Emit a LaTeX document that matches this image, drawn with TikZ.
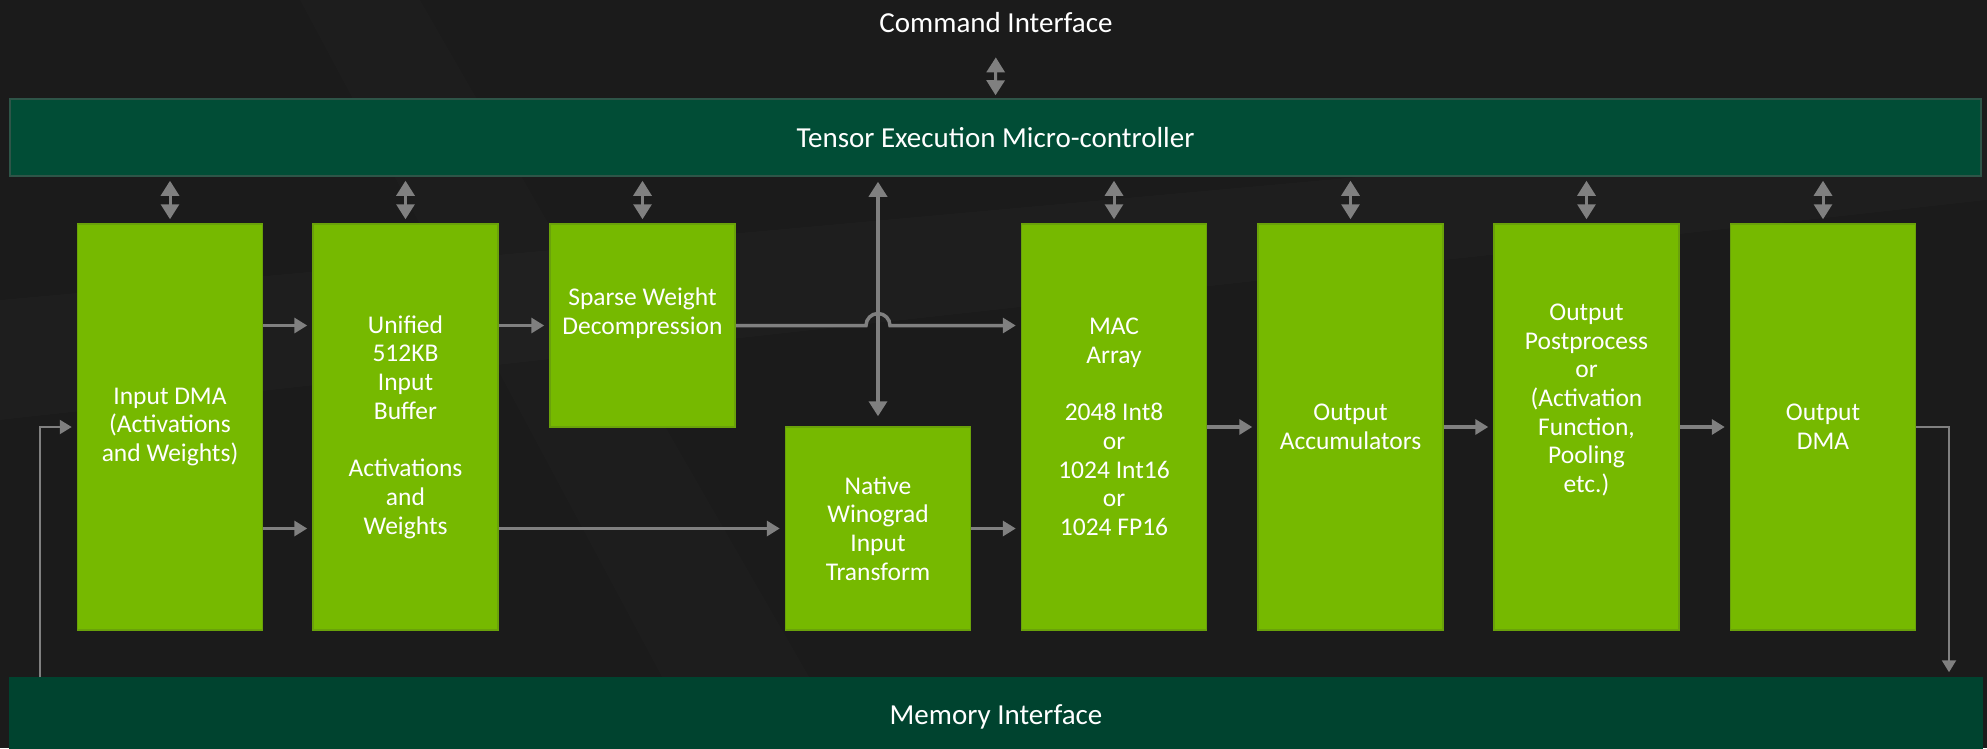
\documentclass[tikz,border=0pt]{standalone}
\usepackage{fontspec}
\setmainfont{Carlito}
\usetikzlibrary{arrows.meta}
\definecolor{bgc}{HTML}{1B1B1B}
\definecolor{nvgreen}{HTML}{76B900}
\definecolor{nvedge}{HTML}{6AA20A}
\definecolor{barc}{HTML}{014D36}
\definecolor{barbot}{HTML}{00432F}
\definecolor{baredge}{HTML}{2E5548}
\definecolor{conncol}{HTML}{808080}
\tikzset{
  box/.style={draw=nvedge, line width=1.5pt, fill=nvgreen, text=white, align=center,
    inner sep=0pt, minimum width=185pt,
    font={\fontsize{25.5}{28.7}\selectfont}},
  tallbox/.style={box, minimum height=406pt},
  shortbox/.style={box, minimum height=203pt},
  bar/.style={fill=barc, draw=baredge, line width=1.5pt, text=white, inner sep=0pt,
    minimum width=1971pt, font={\fontsize{29}{32}\selectfont}},
  conn/.style={draw=conncol, line width=3.5pt, -{Triangle[width=15pt,length=13pt]}, shorten >=5pt},
  thinconn/.style={draw=conncol, line width=2.2pt, -{Triangle[width=14pt,length=12pt]}, shorten >=5pt},
  dbl/.style={draw=conncol, line width=3pt, {Triangle[width=18pt,length=15pt]}-{Triangle[width=18pt,length=15pt]},
    shorten >=4pt, shorten <=4pt},
}
\begin{document}
\begin{tikzpicture}[x=1pt,y=-1pt]
\fill[bgc] (0,0) rectangle (1987,748);
\useasboundingbox (0,0) rectangle (1987,748);
% subtle background streaks
\fill[white, opacity=0.015] (0,300) -- (1987,120) -- (1987,200) -- (0,420) -- cycle;
\fill[white, opacity=0.012] (300,0) -- (700,748) -- (850,748) -- (420,0) -- cycle;

% bars and title
\node[font={\fontsize{29}{32}\selectfont}, text=white, inner sep=0pt] (cmd) at (996,23) {Command Interface};
\node[bar, minimum height=77pt] (tec) at (995.5,137.5) {Tensor Execution Micro-controller};
\node[bar, fill=barbot, draw=barbot, minimum width=1972pt, minimum height=72pt] (mem) at (996,714) {};
\node[text=white, font={\fontsize{29}{32}\selectfont}, inner sep=0pt] (memlbl) at (996,717) {Memory Interface};

% boxes
\node[tallbox] (dma) at (170,427) {Input DMA\\(Activations\\and Weights)};
\node[tallbox] (uni) at (405.5,427) {Unified\\512KB\\Input\\Buffer\\~\\Activations\\and\\Weights};
\node[shortbox] (sparse) at (642.5,325.5) {Sparse Weight\\Decompression\\~};
\node[shortbox] (wino) at (878,528.5) {Native\\Winograd\\Input\\Transform};
\node[tallbox] (mac) at (1114,427) {MAC\\Array\\~\\2048 Int8\\or\\1024 Int16\\or\\1024 FP16};
\node[tallbox] (acc) at (1350.5,427) {Output\\Accumulators};
\node[tallbox] (post) at (1586.5,427) {Output\\Postprocess\\or\\(Activation\\Function,\\Pooling\\etc.)\\~\\~};
\node[tallbox] (odma) at (1823,427) {Output\\DMA};

% command interface arrow
\draw[dbl, shorten <=24pt, shorten >=3pt] (cmd.south) -- (tec.north);

% control arrows from micro-controller
\foreach \n in {dma,uni,sparse,mac,acc,post,odma}
  \draw[dbl] (\n.north |- tec.south) -- (\n.north);
\draw[dbl, line width=3.5pt, shorten <=5pt, shorten >=10pt] (wino.north |- tec.south) -- (wino.north);

% data flow
\draw[conn] (dma.east |- sparse.east) -- (uni.west |- sparse.east);
\draw[conn] (dma.east |- wino.west) -- (uni.west |- wino.west);
\draw[conn] (uni.east |- sparse.west) -- (sparse.west);
\draw[conn] (uni.east |- wino.west) -- (wino.west);
\coordinate (hop) at (wino.north |- sparse.east);
\draw[conn] (sparse.east) -- ([xshift=-12pt]hop) arc[start angle=180, end angle=0, radius=12pt] -- (mac.west |- sparse.east);
\draw[conn] (wino.east) -- (mac.west |- wino.east);
\draw[conn] (mac.east) -- (acc.west);
\draw[conn] (acc.east) -- (post.west);
\draw[conn] (post.east) -- (odma.west);

% memory paths
\coordinate (fb) at (40,427);
\draw[thinconn] (mem.north -| fb) -- (fb) -- (dma.west);
\coordinate (ob) at (1949,427);
\draw[thinconn] (odma.east) -- (ob) -- (ob |- mem.north);
\end{tikzpicture}
\end{document}
